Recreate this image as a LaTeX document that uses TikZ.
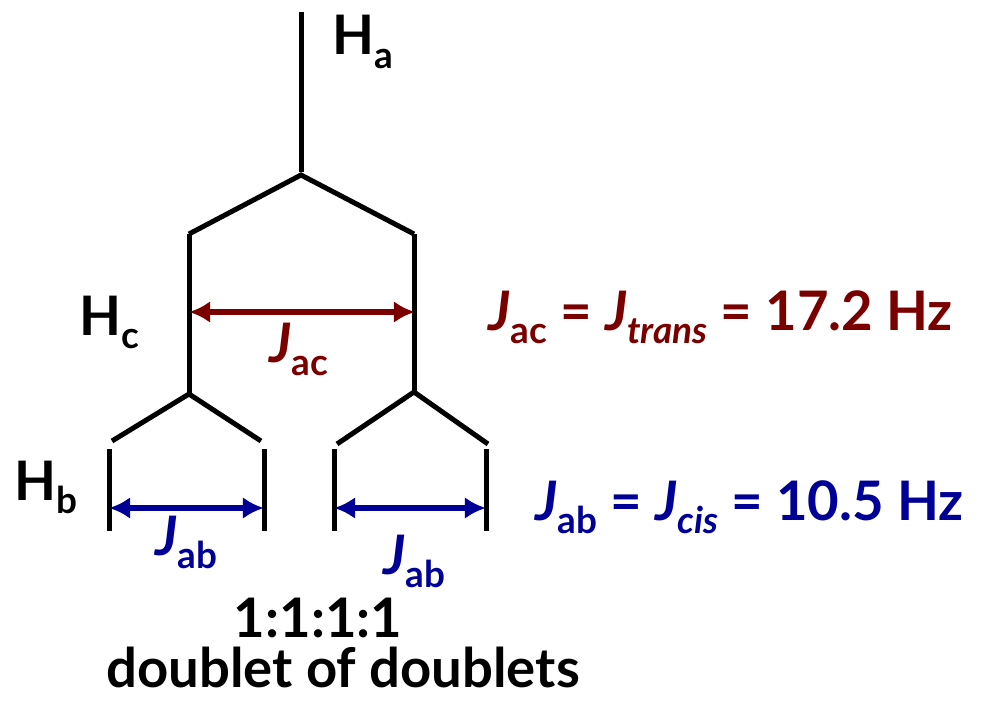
\documentclass[tikz,border=0pt]{standalone}
\usepackage{fontspec}
\setmainfont{Lato}
\usepackage{xcolor}
\usetikzlibrary{arrows.meta}
\definecolor{jred}{RGB}{122,0,0}
\definecolor{jblue}{RGB}{0,0,150}
\newcommand{\lowidx}[1]{\raisebox{-0.24em}{\fontsize{21}{23}\selectfont #1}}
\newcommand{\jlab}[1]{\textit{J}\lowidx{#1}}

\begin{document}
\begin{tikzpicture}[x=0.02cm, y=-0.02cm, font=\bfseries\fontsize{31}{34}\selectfont,
  tree/.style={line width=0.1cm, line join=miter},
  jarrow/.style={{Latex[length=0.42cm,width=0.44cm]}-{Latex[length=0.42cm,width=0.44cm]}, line width=0.12cm, shorten <=-1pt, shorten >=-1pt},
  lab/.style={anchor=base west, inner sep=0pt}]
  \useasboundingbox (0,0) rectangle (981,713);
  % splitting tree
  \coordinate (top) at (301,12);  \coordinate (a) at (301,175);
  \coordinate (al) at (189,234);  \coordinate (ar) at (414,234);
  \coordinate (cl) at (189,394);  \coordinate (cr) at (414,392);
  \coordinate (cl1) at (112,441); \coordinate (cl2) at (261,441);
  \coordinate (cr1) at (337,444); \coordinate (cr2) at (488,444);
  \foreach \n/\x in {p1/109, p2/264, p3/334, p4/486} {
    \coordinate (\n t) at (\x,449); \coordinate (\n b) at (\x,531);}
  \draw[tree] (top) -- (301,172);
  \draw[tree] (al) -- (a) -- (ar);
  \draw[tree] (al) -- (cl); \draw[tree] (ar) -- (cr);
  \draw[tree] (cl1) -- (cl) -- (cl2);
  \draw[tree] (cr1) -- (cr) -- (cr2);
  \foreach \n in {p1,p2,p3,p4} { \draw[tree] (\n t) -- (\n b); }
  % coupling arrows
  \coordinate (jacL) at (191,312); \coordinate (jacR) at (413,312);
  \coordinate (jab1L) at (111,508); \coordinate (jab1R) at (262,508);
  \coordinate (jab2L) at (336,508); \coordinate (jab2R) at (484,508);
  \draw[jarrow, jred] (jacL) -- (jacR);
  \draw[jarrow, jblue] (jab1L) -- (jab1R);
  \draw[jarrow, jblue] (jab2L) -- (jab2R);
  % labels
  \node[lab] (ha) at (332,55) {H\lowidx{a}};
  \node[lab] (hc) at (79,335) {H\lowidx{c}};
  \node[lab] (hb) at (14,500) {H\lowidx{b}};
  \node[lab, jred] (jac) at (269,362) {\jlab{ac}};
  \node[lab, jblue] (jab1) at (155,555) {\jlab{ab}};
  \node[lab, jblue] (jab2) at (383,574) {\jlab{ab}};
  \node[lab, jred] (trans) at (488,330) {\jlab{ac} = \textit{J}\lowidx{\textit{trans}} = 17.2 Hz};
  \node[lab, jblue] (cis) at (535,520) {\jlab{ab} = \textit{J}\lowidx{\textit{cis}}\ = 10.5 Hz};
  \node[lab, anchor=base] (ratio) at (318,637) {1:1:1:1};
  \node[lab, anchor=base] (dd) at (343,687) {doublet of doublets};
\end{tikzpicture}
\end{document}
